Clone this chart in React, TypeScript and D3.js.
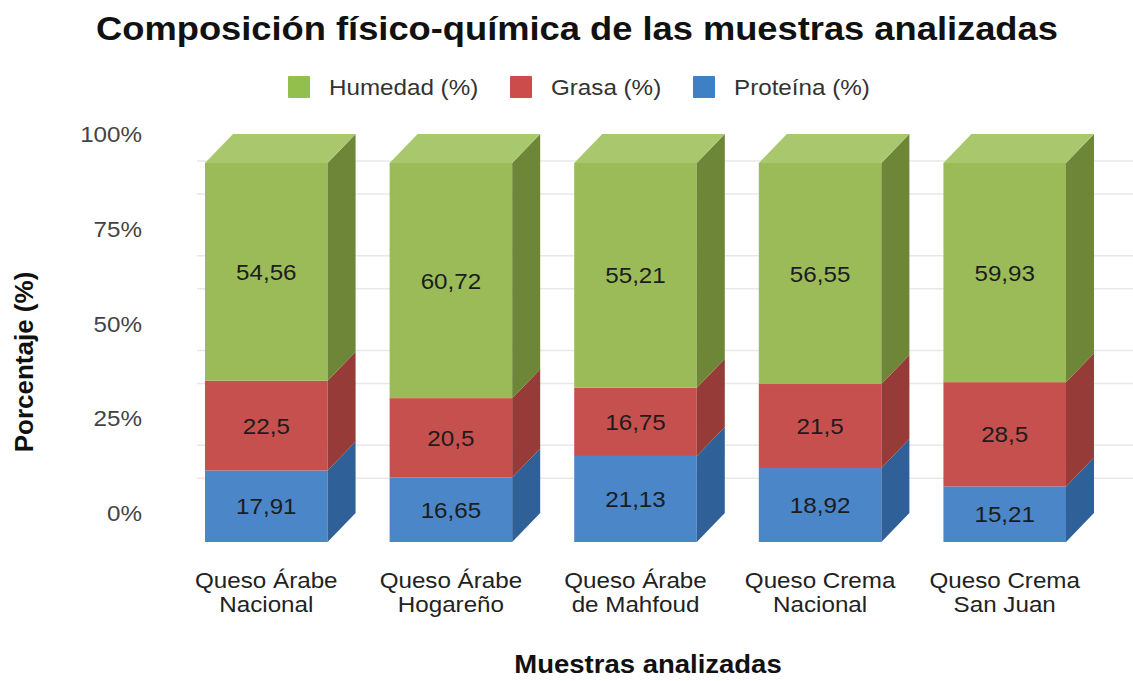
import React from 'react';
import * as d3 from 'd3';

// muestras y valores
const categories = [
  ['Queso Árabe', 'Nacional'],
  ['Queso Árabe', 'Hogareño'],
  ['Queso Árabe', 'de Mahfoud'],
  ['Queso Crema', 'Nacional'],
  ['Queso Crema', 'San Juan'],
];
const proteina = [17.91, 16.65, 21.13, 18.92, 15.21];
const grasa = [22.5, 20.5, 16.75, 21.5, 28.5];
const humedad = [54.56, 60.72, 55.21, 56.55, 59.93];

const seriesNames = ['Humedad (%)', 'Grasa (%)', 'Proteína (%)'];
const yTicks = [0, 0.25, 0.5, 0.75, 1];

const W = 1133;
const H = 681;
const DX = 28; // profundidad 3D
const DY = 29;
const SX = 1.1; // el texto del original está algo ensanchado
const FONT = "'Liberation Sans', Arial, Helvetica, sans-serif";

// front, lateral, tapa
const palette = {
  humedad: { front: '#9bbb59', side: '#6d8638', top: '#a9c86e', legend: '#93bf4d' },
  grasa: { front: '#c6504e', side: '#973b39', top: '#d26a67', legend: '#cc4b4b' },
  proteina: { front: '#4a86c8', side: '#2f6098', top: '#6b9bd3', legend: '#3f7fc6' },
};

const fmt = (v: number) => String(v).replace('.', ',');

// texto con un leve estiramiento horizontal
const T = ({ x, y, children, ...rest }: any) => (
  <text transform={`translate(${x},${y}) scale(${SX},1)`} {...rest}>{children}</text>
);

export default function App() {
  const keys = categories.map(c => c.join(' '));
  const x = d3.scaleBand<string>()
    .domain(keys)
    .range([174, 1097])
    .paddingInner(0.336)
    .paddingOuter(0.168);
  const y = d3.scaleLinear().domain([0, 1]).range([542, 163]);
  const bw = x.bandwidth();

  const rows = keys.map((k, i) => ({
    key: k,
    proteina: proteina[i],
    grasa: grasa[i],
    humedad: humedad[i],
  }));
  const stack = d3.stack<any>()
    .keys(['proteina', 'grasa', 'humedad'])
    .offset(d3.stackOffsetExpand);
  const layers = stack(rows);

  // líneas de cuadrícula (dobles, como en el original)
  const gridFront = [0.25, 0.5, 0.75, 1];

  return (
    <svg width={W} height={H} style={{ position: 'absolute', left: 0, top: 0, background: '#fff', fontFamily: FONT }}>
      <T x={577} y={40} textAnchor="middle" fontSize={33} fontWeight="bold" fill="#111">
        Composición físico-química de las muestras analizadas
      </T>

      {/* leyenda */}
      {seriesNames.map((name, i) => {
        const lx = [288, 510, 693][i];
        const col = [palette.humedad, palette.grasa, palette.proteina][i].legend;
        return (
          <g key={name}>
            <rect x={lx} y={76} width={22} height={22} fill={col} rx={1} />
            <T x={lx + 41} y={95} fontSize={22} fill="#333">{name}</T>
          </g>
        );
      })}

      {/* cuadrícula */}
      {gridFront.map(v => (
        <g key={v}>
          <line x1={197} x2={W} y1={y(v) - 2} y2={y(v) - 2} stroke="#e8e8e8" strokeWidth={1.5} />
          <line x1={197} x2={W} y1={y(v) + 31} y2={y(v) + 31} stroke="#e8e8e8" strokeWidth={1.5} />
        </g>
      ))}

      {/* eje y */}
      {yTicks.map(t => (
        <T key={t} x={142} y={y(t) - DY + 8} textAnchor="end" fontSize={22} fill="#444">
          {d3.format('.0%')(t)}
        </T>
      ))}

      {/* barras 3D */}
      {layers.map(layer => {
        const c = (palette as any)[layer.key];
        return layer.map((d, i) => {
          const x0 = x(keys[i])!;
          const x1 = x0 + bw;
          const yb = y(d[0]);
          const yt = y(d[1]);
          const isTop = layer.key === 'humedad';
          const val = (d.data as any)[layer.key];
          return (
            <g key={layer.key + i}>
              <rect x={x0} y={yt} width={bw} height={yb - yt} fill={c.front} />
              <path d={`M${x1},${yb}L${x1 + DX},${yb - DY}L${x1 + DX},${yt - DY}L${x1},${yt}Z`} fill={c.side} />
              {isTop && (
                <path d={`M${x0},${yt}L${x0 + DX},${yt - DY}L${x1 + DX},${yt - DY}L${x1},${yt}Z`} fill={c.top} />
              )}
              <T x={x0 + bw / 2} y={(yb + yt) / 2 + 8} textAnchor="middle" fontSize={22} fill="#1c1c1c">
                {fmt(val)}
              </T>
            </g>
          );
        });
      })}

      {/* categorías */}
      {categories.map((c, i) => (
        <g key={i}>
          <T x={x(keys[i])! + bw / 2} y={588} textAnchor="middle" fontSize={22} fill="#222">{c[0]}</T>
          <T x={x(keys[i])! + bw / 2} y={612} textAnchor="middle" fontSize={22} fill="#222">{c[1]}</T>
        </g>
      ))}

      <text transform="translate(33,362) rotate(-90)" textAnchor="middle" fontSize={26} fontWeight="bold" fill="#111">
        Porcentaje (%)
      </text>
      <T x={648} y={673} textAnchor="middle" fontSize={25} fontWeight="bold" fill="#111">
        Muestras analizadas
      </T>
    </svg>
  );
}
